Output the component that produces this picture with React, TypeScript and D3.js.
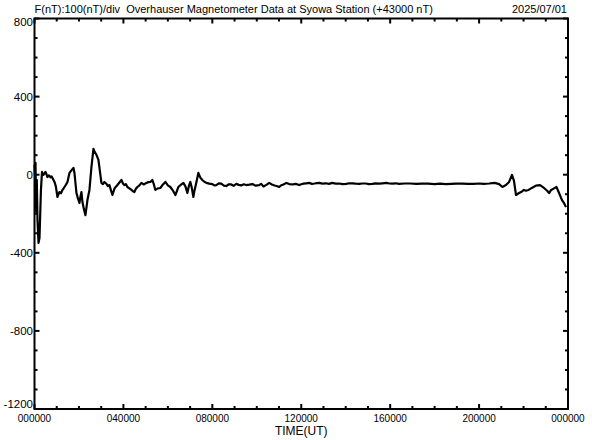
import React from 'react';
import * as d3 from 'd3';

const TITLE = 'F(nT):100(nT)/div  Overhauser Magnetometer Data at Syowa Station (+43000 nT)';
const DATE_LABEL = '2025/07/01';
const X_TITLE = 'TIME(UT)';
const Y_LABELS = [800, 400, 0, -400, -800, -1200];
const X_LABELS = ['000000', '040000', '080000', '120000', '160000', '200000', '000000'];
const X_LABEL_HOURS = [0, 4, 8, 12, 16, 20, 24];

const HOURS = [
  0, 0.02, 0.045, 0.076, 0.103, 0.135, 0.18, 0.225, 0.29, 0.337, 0.37, 0.404, 0.45, 0.494, 0.54, 0.584, 0.63,
  0.674, 0.72, 0.77, 0.809, 0.899, 0.96, 1.034, 1.08, 1.124, 1.19, 1.258, 1.3, 1.348, 1.42, 1.483, 1.573,
  1.66, 1.753, 1.798, 1.84, 1.888, 1.95, 2.022, 2.07, 2.112, 2.157, 2.22, 2.292, 2.382, 2.472,
  2.562, 2.652, 2.7, 2.787, 2.876, 2.94, 3.011, 3.08, 3.146, 3.22, 3.3, 3.371, 3.44, 3.506, 3.6, 3.73, 3.82,
  3.91, 3.98, 4.045, 4.11, 4.18, 4.27, 4.36, 4.43, 4.494, 4.56, 4.629, 4.72, 4.809, 4.92, 5.034, 5.12,
  5.213, 5.3, 5.37, 5.438, 5.55, 5.663, 5.78, 5.888, 6.0, 6.112, 6.22, 6.337, 6.4, 6.472, 6.58, 6.697, 6.79,
  6.876, 6.94, 7.011, 7.08, 7.146, 7.19, 7.236, 7.3, 7.371, 7.46, 7.551, 7.64,
  7.73, 7.86, 8.0, 8.09, 8.18, 8.29, 8.4, 8.52, 8.629, 8.74, 8.85, 8.96, 9.079, 9.19, 9.3, 9.41, 9.528,
  9.66, 9.8, 9.95, 10.11, 10.2, 10.3, 10.43, 10.56, 10.68, 10.8, 10.9, 11.01, 11.1, 11.2,
  11.33, 11.46, 11.6, 11.75, 11.91, 12.0, 12.1, 12.23, 12.36, 12.48, 12.6, 12.7, 12.81, 12.95, 13.1, 13.25,
  13.39, 13.55, 13.7, 13.86, 14.02, 14.16, 14.3, 14.45, 14.61, 14.75, 14.9, 15.05, 15.19, 15.35, 15.5,
  15.66, 15.82, 15.96, 16.1, 16.25, 16.4, 16.65, 16.9, 17.17, 17.44, 17.7, 18.0, 18.25, 18.5, 18.75, 18.97,
  19.25, 19.5, 19.75, 20.0, 20.2, 20.45, 20.7, 20.9, 21.05, 21.21, 21.35, 21.48, 21.57,
  21.66, 21.8, 21.93, 22.02, 22.11, 22.22, 22.34, 22.45, 22.56, 22.74, 22.92, 23.06, 23.15, 23.24, 23.37,
  23.48, 23.6, 23.73, 23.82, 23.91, 23.98,
];

const FIELD = [
  50, -1, 61, -190, -27, -232, -349, -324, -78, 14, 2, -1, 8, 14, 2, -12, -4,
  -6, -14, -9, -17, -37, -60, -114, -100, -89, -95, -78, -72, -63, -50, -37, 9,
  22, 35, 9, -40, -94, -120, -145, -110, -89, -140, -175, -207, -130, -78,
  40, 132, 118, 102, 76, 20, -42, -48, -37, -45, -58, -53, -80, -104, -70, -53, -40,
  -27, -45, -53, -48, -63, -70, -78, -85, -89, -72, -63, -55, -42, -50, -42, -38,
  -37, -27, -50, -78, -70, -68, -50, -37, -55, -63, -80, -104, -85, -63, -52, -42, -60,
  -94, -60, -37, -70, -114, -85, -63, -30, 9, -15, -27, -36,
  -42, -46, -48, -55, -53, -44, -46, -56, -58, -49, -50, -57, -47, -52, -55, -49, -53,
  -51, -48, -56, -53, -47, -60, -52, -42, -50, -55, -58, -63, -54, -50,
  -42, -48, -50, -47, -53, -49, -46, -44, -42, -47, -45, -43, -42, -46, -44, -47,
  -42, -46, -45, -48, -47, -44, -44, -46, -47, -45, -45, -48, -47, -44, -46,
  -44, -42, -45, -46, -44, -47, -45, -45, -47, -46, -46, -48, -46, -48, -47,
  -46, -46, -47, -47, -45, -47, -45, -42, -48, -63, -53, -37, -1,
  -32, -104, -94, -86, -78, -82, -78, -70, -63, -56, -53, -68, -82, -94, -78,
  -70, -63, -94, -130, -145, -166,
];

const W = 592;
const H = 440;
const M = { left: 34.5, right: 568, top: 18.5, bottom: 409 };
const FONT = '"Liberation Sans", Arial, sans-serif';

export default function App() {
  const x = d3.scaleLinear().domain([0, 24]).range([M.left, M.right]);
  const y = d3.scaleLinear().domain([-1200, 800]).range([M.bottom, M.top]);
  const pts = HOURS.map((h, i) => [h, FIELD[i]] as [number, number]);
  const line = d3.line<[number, number]>().x((d) => x(d[0])).y((d) => y(d[1]));

  const hourTicks = d3.range(0, 25, 1);
  const valTicks = d3.range(-1200, 801, 100);

  return (
    <svg width={W} height={H} style={{ position: 'fixed', left: 0, top: 0, background: '#fff' }}>
      <rect x={0} y={0} width={W} height={H} fill="#fff" />
      {hourTicks.map((h) => {
        const len = h % 4 === 0 ? 5 : 3;
        return (
          <g key={'h' + h} stroke="#000" strokeWidth={2}>
            <line x1={x(h)} x2={x(h)} y1={M.top} y2={M.top + len} />
            <line x1={x(h)} x2={x(h)} y1={M.bottom} y2={M.bottom - len} />
          </g>
        );
      })}
      {valTicks.map((v) => {
        const len = v % 400 === 0 ? 5 : 3;
        return (
          <g key={'v' + v} stroke="#000" strokeWidth={2}>
            <line x1={M.left} x2={M.left + len} y1={y(v)} y2={y(v)} />
            <line x1={M.right} x2={M.right - len} y1={y(v)} y2={y(v)} />
          </g>
        );
      })}
      <rect x={M.left} y={M.top} width={M.right - M.left} height={M.bottom - M.top} fill="none" stroke="#000" strokeWidth={2} />
      <path d={line(pts) || ''} fill="none" stroke="#000" strokeWidth={2.2} strokeLinejoin="round" />
      {Y_LABELS.map((v) => (
        <text key={'yl' + v} x={33} y={Math.min(Math.max(y(v), 22), 404) + 4} textAnchor="end" fontFamily={FONT} fontSize={11.5} fill="#000">
          {v}
        </text>
      ))}
      {X_LABELS.map((t, i) => (
        <text key={'xl' + i} x={x(X_LABEL_HOURS[i])} y={422} textAnchor="middle" fontFamily={FONT} fontSize={10} fill="#000">
          {t}
        </text>
      ))}
      <text x={(M.left + M.right) / 2} y={435} textAnchor="middle" fontFamily={FONT} fontSize={12} fill="#000">
        {X_TITLE}
      </text>
      <text x={M.left} y={13} fontFamily={FONT} fontSize={11} fill="#000" style={{ whiteSpace: 'pre' }}>
        {TITLE}
      </text>
      <text x={567} y={13} textAnchor="end" fontFamily={FONT} fontSize={11} fill="#000">
        {DATE_LABEL}
      </text>
    </svg>
  );
}
